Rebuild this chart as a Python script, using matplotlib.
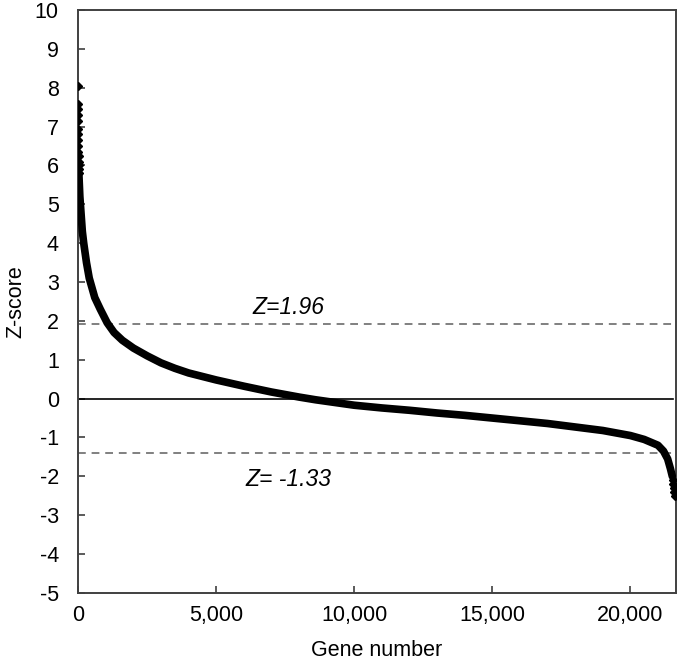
import matplotlib.pyplot as plt
from matplotlib.ticker import FuncFormatter

plt.rcParams['font.family'] = ['Liberation Sans', 'DejaVu Sans']
plt.rcParams['axes.unicode_minus'] = False

# sorted gene z-scores
top_genes = [1, 2, 3, 4, 5, 6, 7, 8, 9, 10, 11, 12, 13, 14, 15]
top_z = [8.05, 7.58, 7.45, 7.3, 7.15, 6.95, 6.8, 6.65, 6.5, 6.35, 6.25, 6.1, 6.0, 5.9, 5.8]

curve_genes = [20, 30, 60, 100, 150, 200, 300, 400, 600, 800, 1050, 1300, 1600, 2000,
               2500, 3000, 3500, 4000, 5000, 6000, 7000, 8000, 8600, 9500, 10000,
               11000, 12000, 13000, 14000, 15000, 16000, 17000, 18000, 19000, 20000,
               20500, 21000, 21200, 21350, 21450, 21520]
curve_z = [5.8, 5.7, 5.2, 4.8, 4.3, 4.0, 3.5, 3.1, 2.6, 2.3, 1.95, 1.7, 1.5, 1.3,
           1.1, 0.92, 0.78, 0.66, 0.48, 0.32, 0.17, 0.04, -0.03, -0.12, -0.17,
           -0.24, -0.3, -0.37, -0.43, -0.5, -0.57, -0.64, -0.73, -0.82, -0.95,
           -1.05, -1.2, -1.35, -1.55, -1.8, -2.0]

bottom_genes = [21540, 21555, 21570, 21585, 21600]
bottom_z = [-2.1, -2.2, -2.3, -2.4, -2.5]

z_upper = 1.93
z_lower = -1.39

fig = plt.figure(figsize=(6.8, 6.64), dpi=100)
ax = fig.add_axes([0.115, 0.107, 0.879, 0.878])

ax.axhline(0, color='black', lw=1.2, xmin=0, xmax=0.995)
ax.axhline(z_upper, color='#808080', lw=1.4, ls=(0, (4, 3)))
ax.axhline(z_lower, color='#808080', lw=1.4, ls=(0, (4, 3)))

ax.plot(curve_genes, curve_z, color='black', lw=5.5, solid_capstyle='round', zorder=3)
ax.plot(top_genes, top_z, 'D', color='black', ms=4, zorder=3)
ax.plot(bottom_genes, bottom_z, 'D', color='black', ms=4, zorder=3)

ax.text(7600, 2.35, 'Z=1.96', style='italic', fontsize=16.5, ha='center', va='center')
ax.text(7600, -2.07, 'Z= -1.33', style='italic', fontsize=16.5, ha='center', va='center')

ax.set_xlim(0, 21650)
ax.set_ylim(-5, 10)
ax.set_xticks([0, 5000, 10000, 15000, 20000])
ax.set_yticks(range(-5, 11))
ax.xaxis.set_major_formatter(FuncFormatter(lambda v, p: f'{int(v):,}'))
ax.tick_params(axis='both', direction='in', length=5, width=1.2, color='#404040', labelsize=15.5)
ax.tick_params(axis='y', pad=14)
ax.tick_params(axis='x', pad=9)
for s in ax.spines.values():
    s.set_color('#404040')
    s.set_linewidth(1.4)

ax.set_xlabel('Gene number', fontsize=15.5, labelpad=10)
ax.set_ylabel('Z-score', fontsize=15.5, labelpad=6)

plt.savefig('out.png', dpi=100)
